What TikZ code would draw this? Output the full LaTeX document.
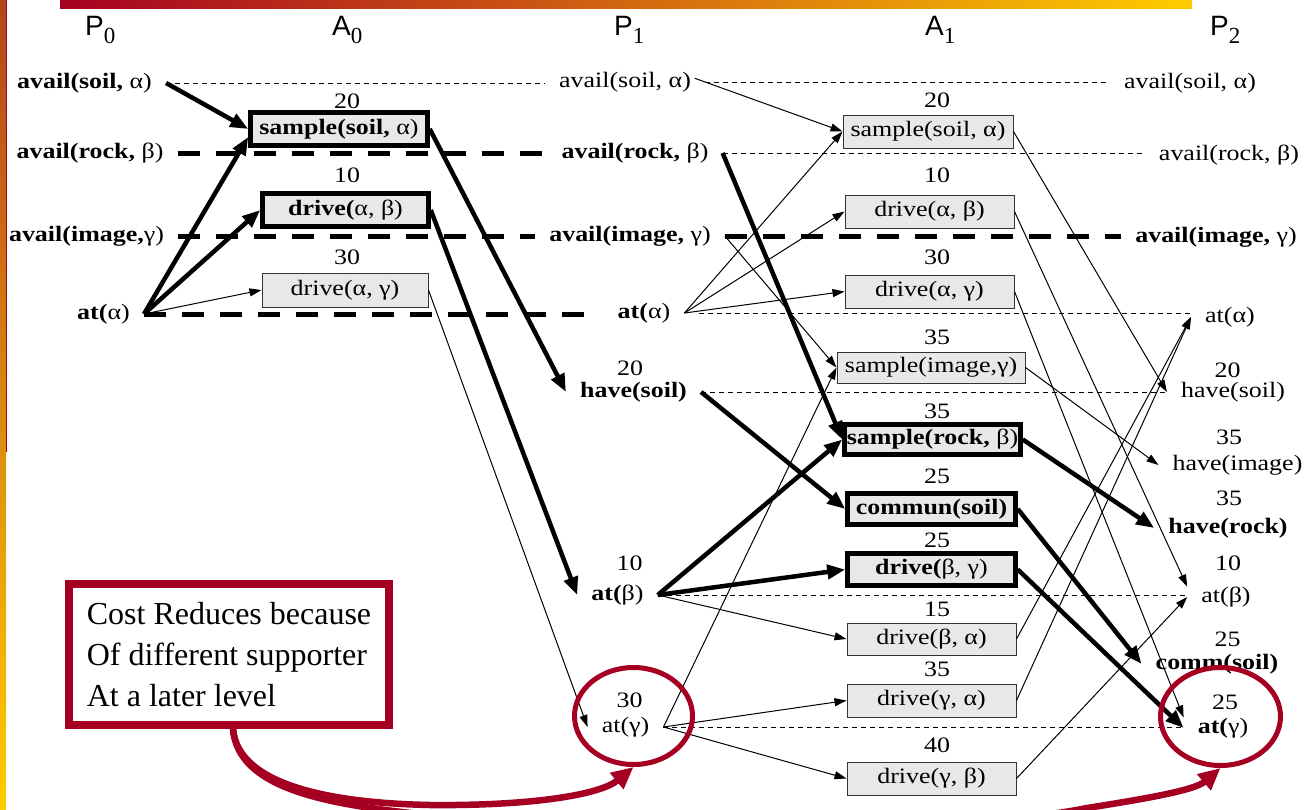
\documentclass[tikz,border=0pt]{standalone}
\usepackage{fontspec}
\setmainfont{Liberation Serif}
\newfontfamily\dfont{Liberation Serif}[FakeStretch=1.18]
\newfontfamily\hfont{Liberation Sans}
\usetikzlibrary{arrows.meta,shapes.geometric}

\definecolor{cardinal}{HTML}{A50021}
\definecolor{gold}{HTML}{FFCC00}
\definecolor{rust}{HTML}{B4441C}
\definecolor{boxgray}{HTML}{E8E8E8}

\newcommand{\dsize}{\fontsize{22}{24}\selectfont}
\newcommand{\lvl}[2]{{\hfont\fontsize{28}{30}\selectfont #1}\raisebox{-8pt}{\fontsize{23}{24}\selectfont #2}}

\tikzset{
  fact/.style={font=\dfont\dsize, inner xsep=14pt, inner ysep=2pt},
  bfact/.style={fact, font=\dfont\bfseries\dsize},
  cost/.style={font=\dfont\dsize, inner sep=0pt},
  act/.style={draw=black!80, line width=1pt, fill=boxgray, font=\dfont\dsize,
    inner sep=0pt, minimum height=33pt},
  keyact/.style={act, draw=black, line width=4.5pt, font=\dfont\bfseries\dsize},
  hdr/.style={inner sep=0pt, anchor=base west},
  thinarr/.style={line width=1pt, -{Triangle[length=12pt,width=8pt]}},
  keyarr/.style={line width=4.5pt, -{Triangle[length=18pt,width=14pt]}},
  noop/.style={line width=0.9pt, dash pattern=on 5pt off 4pt},
  bnoop/.style={line width=5pt, dash pattern=on 22pt off 16pt},
  ring/.style={ellipse, draw=cardinal, line width=5pt, inner sep=0pt},
  callout/.style={draw=cardinal, line width=8pt, fill=white, inner sep=0pt,
    minimum width=320pt, minimum height=141pt, align=left,
    font=\fontsize{32}{41}\selectfont},
  callarrow/.style={cardinal, line width=6.5pt, -{Triangle[length=22pt,width=20pt]}}
}

\begin{document}
\begin{tikzpicture}[x=1pt,y=-1pt]
\useasboundingbox (0,0) rectangle (1312,809);

% slide decoration
\shade[left color=cardinal, right color=gold] (60,0) rectangle (1192,8);
\shade[top color=rust, bottom color=gold] (0,0) rectangle (6,809);
\draw[cardinal, line width=1pt] (6.5,0) -- (6.5,452);

% level headers
\node[hdr] (hP0) at (85,35) {\lvl{P}{0}};
\node[hdr] (hA0) at (332,35) {\lvl{A}{0}};
\node[hdr] (hP1) at (614,35) {\lvl{P}{1}};
\node[hdr] (hA1) at (925,35) {\lvl{A}{1}};
\node[hdr] (hP2) at (1210,35) {\lvl{P}{2}};

% proposition level 0
\node[bfact] (p0soil) at (84.5,83) {avail(soil, \textmd{α)}};
\node[bfact] (p0rock) at (90,153) {avail(rock, \textmd{β)}};
\node[bfact] (p0img) at (86.5,236) {avail(image,\textmd{γ)}};
\node[bfact] (p0at) at (103.5,314) {at(\textmd{α)}};

% action level 0
\node[cost] (k0s) at (347,101) {20};
\node[keyact, minimum width=177pt] (s0) at (339,129) {sample(soil, \textmd{α)}};
\node[cost] (k0ab) at (347,175) {10};
\node[keyact, minimum width=166pt] (d0ab) at (345.5,210) {drive(\textmd{α, β)}};
\node[cost] (k0ag) at (347,257) {30};
\node[act, minimum width=166pt, minimum height=34pt] (d0ag) at (345,290) {drive(α, γ)};

% proposition level 1
\node[fact] (p1soil) at (625,82) {avail(soil, α)};
\node[bfact] (p1rock) at (635,153) {avail(rock, \textmd{β)}};
\node[bfact] (p1img) at (630,236) {avail(image, \textmd{γ)}};
\node[bfact] (p1at) at (644,313) {at(\textmd{α)}};
\node[cost] (c1have) at (630,368) {20};
\node[bfact] (p1have) at (633.5,392) {have(soil)};
\node[cost] (c1atb) at (629.5,563) {10};
\node[bfact] (p1atb) at (617.5,595) {at(\textmd{β)}};
\node[cost] (c1atg) at (629.5,700) {30};
\node[fact] (p1atg) at (625.5,727) {at(γ)};

% action level 1
\node[cost] (k1s) at (937,100.5) {20};
\node[act, minimum width=170pt] (s1soil) at (928,131.5) {sample(soil, α)};
\node[cost] (k1ab) at (937,175) {10};
\node[act, minimum width=169pt] (d1ab) at (929.5,211.5) {drive(α, β)};
\node[cost] (k1ag) at (937,257) {30};
\node[act, minimum width=169pt] (d1ag) at (929.5,291.5) {drive(α, γ)};
\node[cost] (k1img) at (937,337) {35};
\node[act, minimum width=188pt, minimum height=31pt] (s1img) at (931,367.5) {sample(image,γ)};
\node[cost] (k1rock) at (937,411) {35};
\node[keyact, minimum width=176pt, minimum height=30pt] (s1rock) at (932.5,439.5) {sample(rock, \textmd{β)}};
\node[cost] (k1comm) at (937,476) {25};
\node[keyact, minimum width=168pt, minimum height=31pt] (c1soil) at (931.5,509) {commun(soil)};
\node[cost] (k1bg) at (937,540) {25};
\node[keyact, minimum width=168pt, minimum height=32pt] (d1bg) at (931.5,569.5) {drive(\textmd{β, γ)}};
\node[cost] (k1ba) at (937,609) {15};
\node[act, minimum width=169pt, minimum height=32pt] (d1ba) at (931.5,639) {drive(β, α)};
\node[cost] (k1ga) at (937,669) {35};
\node[act, minimum width=169pt] (d1ga) at (931.5,700.5) {drive(γ, α)};
\node[cost] (k1gb) at (937,745) {40};
\node[act, minimum width=169pt] (d1gb) at (931.5,778.5) {drive(γ, β)};

% proposition level 2
\node[fact] (p2soil) at (1190,83) {avail(soil, α)};
\node[fact] (p2rock) at (1229,155) {avail(rock, β)};
\node[bfact] (p2img) at (1216,237) {avail(image, \textmd{γ)}};
\node[fact] (p2ata) at (1230,317) {at(α)};
\node[cost] (c2have) at (1227.5,370) {20};
\node[fact] (p2have) at (1233,392) {have(soil)};
\node[cost] (c2img) at (1229,437) {35};
\node[fact] (p2image) at (1237.5,465) {have(image)};
\node[cost] (c2rock) at (1229,498) {35};
\node[bfact] (p2hrock) at (1228,528) {have(rock)};
\node[cost] (c2atb) at (1228,563) {10};
\node[fact] (p2atb) at (1226,597) {at(β)};
\node[cost] (c2comm) at (1227.5,639) {25};
\node[bfact] (p2comm) at (1217,664) {comm(soil)};
\node[cost] (c2atg) at (1225,702) {25};
\node[bfact] (p2atg) at (1223,728) {at(\textmd{γ)}};

% persistence (no-op) links
\draw[noop, shorten <=9pt] (p0soil.east) -- (p0soil.east -| p1soil.west);
\draw[bnoop] (p0rock.east) -- (p0rock.east -| p1rock.west);
\draw[bnoop] (p0img.east) -- (p0img.east -| p1img.west);
\draw[bnoop, shorten >=8pt] (p0at.east) -- (p0at.east -| p1at.west);
\draw[noop] (p1soil.east) -- (p1soil.east -| p2soil.west);
\draw[noop] (p1rock.east) -- (p1rock.east -| p2rock.west);
\draw[bnoop] (p1img.east) -- (p1img.east -| p2img.west);
\draw[noop, shorten <=15pt] (p1at.east) -- (p1at.east -| p2ata.west);
\draw[noop] (p1have.east) -- (p1have.east -| p2have.west);
\draw[noop] (p1atb.east) -- (p1atb.east -| p2atb.west);
\draw[noop] (p1atg.east) -- (p1atg.east -| p2atg.west);

% level 0 -> action level 0
\draw[keyarr] (p0soil.east) -- (s0.west);
\draw[keyarr] (p0at.east) -- (s0.185);
\draw[keyarr] (p0at.east) -- (d0ab.west);
\draw[thinarr] (p0at.east) -- (d0ag.west);

% action level 0 -> level 1
\draw[keyarr] (s0.east) -- (p1have.west);
\draw[keyarr] (d0ab.east) -- (p1atb.west);
\draw[thinarr] (d0ag.east) -- (p1atg.west);

% level 1 -> action level 1
\draw[thinarr, shorten <=-11pt] (p1soil.east) -- (s1soil.west);
\draw[thinarr] (p1at.east) -- (s1soil.west);
\draw[thinarr] (p1at.east) -- (d1ab.west);
\draw[thinarr] (p1at.east) -- (d1ag.west);
\draw[thinarr] (p1img.east) -- (s1img.west);
\draw[thinarr] (p1atg.east) -- (s1img.west);
\draw[keyarr] (p1rock.east) -- (s1rock.west);
\draw[keyarr] (p1have.east) -- (c1soil.west);
\draw[keyarr] (p1atb.east) -- (s1rock.west);
\draw[keyarr] (p1atb.east) -- (d1bg.west);
\draw[thinarr] (p1atb.east) -- (d1ba.west);
\draw[thinarr] (p1atg.east) -- (d1ga.west);
\draw[thinarr] (p1atg.east) -- (d1gb.west);

% action level 1 -> level 2
\draw[thinarr] (s1soil.east) -- (p2have.west);
\draw[thinarr] (d1ab.east) -- (p2atb.165);
\draw[thinarr] (d1ag.east) -- (p2atg.165);
\draw[thinarr] (s1img.east) -- (p2image.west);
\draw[keyarr] (s1rock.east) -- (p2hrock.west);
\draw[keyarr] (c1soil.east) -- (p2comm.west);
\draw[keyarr] (d1bg.east) -- (p2atg.west);
\draw[thinarr] (d1ba.east) -- (p2ata.west);
\draw[thinarr] (d1ga.east) -- (p2ata.west);
\draw[thinarr] (d1gb.east) -- (p2atb.west);

% annotation
\node[callout] (note) at (229,654.5) {Cost Reduces because\\Of different supporter\\At a later level};
\node[ring, minimum width=118pt, minimum height=97pt] (ring1) at (633.5,716) {};
\node[ring, minimum width=120pt, minimum height=98pt] (ring2) at (1220.5,716.5) {};
\draw[callarrow] ([xshift=4pt]note.south) .. controls (238,785) and (330,803) .. (430,805)
  .. controls (530,806) and (600,795) .. (ring1.south);
\draw[callarrow] ([xshift=4pt]note.south) .. controls (238,790) and (330,805) .. (430,815)
  .. controls (600,845) and (950,835) .. (1087,808)
  .. controls (1150,798) and (1195,790) .. (ring2.south);
\end{tikzpicture}
\end{document}
